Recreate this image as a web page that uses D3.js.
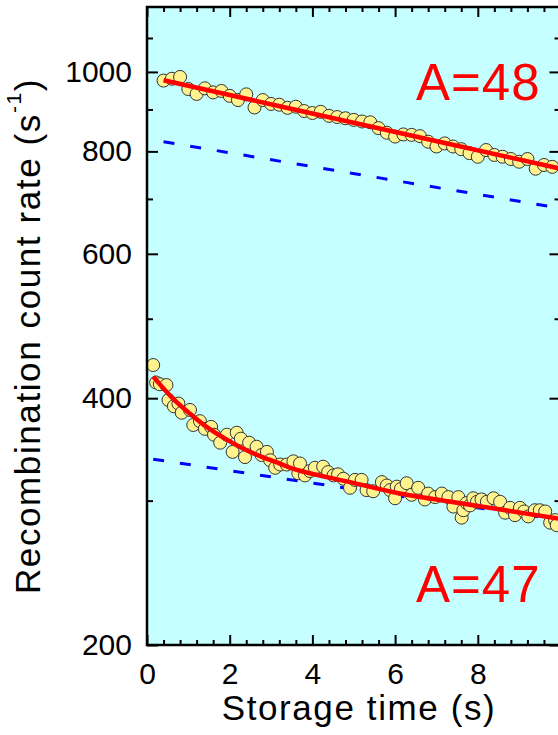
<!DOCTYPE html>
<html>
<head>
<meta charset="utf-8">
<script src="https://cdn.jsdelivr.net/npm/d3@7"></script>
<style>
  html, body { margin: 0; padding: 0; background: #ffffff; }
  svg { display: block; }
  text { font-family: "Liberation Sans", Arial, Helvetica, sans-serif; }
</style>
</head>
<body>
<svg id="chart" width="558" height="735"></svg>
<script>
// ---------------- data ----------------
// A=48 measured points
const upperT = [0.4,0.6,0.8,1.0,1.2,1.4,1.6,1.8,2.0,2.2,2.4,2.6,2.8,3.0,3.2,3.4,3.6,3.8,4.0,4.2,4.4,4.6,4.8,5.0,5.2,5.4,5.6,5.8,6.0,6.2,6.4,6.6,6.8,7.0,7.2,7.4,7.6,7.8,8.0,8.2,8.4,8.6,8.8,9.0,9.2,9.4,9.6,9.8];
const upperV = [976,981,986,953,940,955,944,948,935,924,939,905,924,914,912,904,907,896,891,894,884,881,878,874,870,868,854,843,834,839,838,835,822,811,818,811,805,796,788,803,792,788,783,777,783,762,770,766];
// A=47 measured points
const lowerT = [0.15,0.22,0.31,0.47,0.52,0.65,0.76,0.84,1.04,1.12,1.28,1.40,1.55,1.62,1.77,1.93,2.07,2.17,2.27,2.37,2.47,2.65,2.77,2.90,2.98,3.10,3.22,3.38,3.54,3.66,3.70,3.82,3.94,4.06,4.26,4.38,4.51,4.62,4.75,4.91,5.03,5.19,5.31,5.47,5.68,5.80,5.88,6.00,6.04,6.14,6.28,6.40,6.56,6.72,6.80,6.97,7.13,7.29,7.41,7.53,7.61,7.65,7.73,7.81,7.89,7.98,8.09,8.22,8.38,8.54,8.66,8.78,8.90,9.02,9.12,9.22,9.38,9.50,9.63,9.75,9.87,9.91];
const lowerV = [439,418,416,415,398,391,394,384,387,371,375,367,369,361,353,361,344,363,357,339,353,349,341,344,336,329,332,332,335,324,333,322,326,329,330,325,322,323,319,311,318,318,309,308,316,313,309,302,312,310,315,305,311,301,306,303,306,303,295,303,286,292,298,296,302,299,301,299,302,299,290,294,288,294,291,287,292,292,291,282,284,280];
// fit curves (red, solid)
const fitUpperT = [0.4, 5, 10];
const fitUpperV = [977, 867, 762];
const fitLowerT = [0.15,0.64,1.04,1.44,1.93,2.33,2.73,3.14,3.54,3.94,4.91,6.12,7.73,10];
const fitLowerV = [425,399,383,369,356,347,340,334,328,324,316,306,297,285];
// slow components (blue, dashed)
const slowUpperT = [0.4, 10];
const slowUpperV = [822, 682];
const slowLowerT = [0.15, 10];
const slowLowerV = [337, 284];
// ticks and labels
const xTickLabels = [0,2,4,6,8,10];
const xMinorTicks = [0.4,0.8,1.2,1.6,2.4,2.8,3.2,3.6,4.4,4.8,5.2,5.6,6.4,6.8,7.2,7.6,8.4,8.8,9.2,9.6];
const yTickLabels = [200,400,600,800,1000];
const yMinorTicks = [300,500,700,900,1100];
const labels = ["A=48", "A=47"];

// ---------------- layout ----------------
const L = 147, R = 560.5, T = 7, B = 645;
const svg = d3.select("#chart");
const x = d3.scaleLinear().domain([0, 10]).range([L, R]);
const y = d3.scaleLog().domain([200, 1200]).range([B, T]);

svg.append("rect").attr("x", L).attr("y", T).attr("width", R - L).attr("height", B - T)
  .attr("fill", "#c6ffff");

const zip = (a, b) => a.map((t, i) => [t, b[i]]);
const line = d3.line().x(d => x(d[0])).y(d => y(d[1]));
const curve = d3.line().x(d => x(d[0])).y(d => y(d[1])).curve(d3.curveCatmullRom.alpha(0.5));

const plot = svg.append("g");
// dashed slow components
[[slowUpperT, slowUpperV], [slowLowerT, slowLowerV]].forEach(([t, v]) => {
  plot.append("path").datum(zip(t, v)).attr("d", line)
    .attr("fill", "none").attr("stroke", "#0000ff").attr("stroke-width", 3)
    .attr("stroke-dasharray", "11,16");
});
// points
[[upperT, upperV], [lowerT, lowerV]].forEach(([t, v]) => {
  plot.append("g").selectAll("circle").data(zip(t, v)).join("circle")
    .attr("cx", d => x(d[0])).attr("cy", d => y(d[1])).attr("r", 6.5)
    .attr("fill", "#fff38f").attr("stroke", "#333").attr("stroke-width", 1);
});
// fits
[[fitUpperT, fitUpperV], [fitLowerT, fitLowerV]].forEach(([t, v]) => {
  plot.append("path").datum(zip(t, v)).attr("d", curve)
    .attr("fill", "none").attr("stroke", "#ff0000").attr("stroke-width", 4.5);
});

// ---------------- axes ----------------
function style(g) {
  g.select(".domain").remove();
  g.selectAll("line").attr("stroke", "#000").attr("stroke-width", 2);
  g.selectAll("text").attr("font-size", 30).attr("fill", "#000")
    .style("font-family", '"Liberation Sans", Arial, sans-serif');
}
const fmtX = d => (d === 10 ? "" : String(d));
svg.append("g").attr("transform", `translate(0,${B})`)
  .call(d3.axisBottom(x).tickValues(xTickLabels).tickFormat(fmtX).tickSizeInner(-10).tickSizeOuter(0).tickPadding(18))
  .call(style);
svg.append("g").attr("transform", `translate(0,${B})`)
  .call(d3.axisBottom(x).tickValues(xMinorTicks).tickFormat("").tickSizeInner(-5).tickSizeOuter(0))
  .call(style);
svg.append("g").attr("transform", `translate(0,${T})`)
  .call(d3.axisTop(x).tickValues(xTickLabels).tickFormat("").tickSizeInner(-10).tickSizeOuter(0))
  .call(style);
svg.append("g").attr("transform", `translate(0,${T})`)
  .call(d3.axisTop(x).tickValues(xMinorTicks).tickFormat("").tickSizeInner(-5).tickSizeOuter(0))
  .call(style);
svg.append("g").attr("transform", `translate(${L},0)`)
  .call(d3.axisLeft(y).tickValues(yTickLabels).tickFormat(d3.format("d")).tickSizeInner(-11).tickSizeOuter(0).tickPadding(15))
  .call(style);
svg.append("g").attr("transform", `translate(${L},0)`)
  .call(d3.axisLeft(y).tickValues(yMinorTicks).tickFormat("").tickSizeInner(-6).tickSizeOuter(0))
  .call(style);
svg.append("g").attr("transform", `translate(${R},0)`)
  .call(d3.axisRight(y).tickValues(yTickLabels).tickFormat("").tickSizeInner(-11).tickSizeOuter(0))
  .call(style);
svg.append("g").attr("transform", `translate(${R},0)`)
  .call(d3.axisRight(y).tickValues(yMinorTicks).tickFormat("").tickSizeInner(-6).tickSizeOuter(0))
  .call(style);

svg.append("rect").attr("x", L).attr("y", T).attr("width", R - L).attr("height", B - T)
  .attr("fill", "none").attr("stroke", "#000").attr("stroke-width", 2.5);

// ---------------- titles ----------------
svg.append("text").attr("x", 359).attr("y", 720).attr("text-anchor", "middle")
  .attr("font-size", 35).attr("letter-spacing", 1.6).attr("fill", "#000")
  .text("Storage time (s)");

const yt = svg.append("text").attr("transform", "translate(40,336) rotate(-90)")
  .attr("text-anchor", "middle").attr("font-size", 35).attr("letter-spacing", 1.6).attr("fill", "#000");
yt.append("tspan").text("Recombination count rate (s");
yt.append("tspan").attr("font-size", 21).attr("dy", -19).text("-1");
yt.append("tspan").attr("dy", 19).text(")");

svg.append("text").attr("x", 416).attr("y", 100).attr("font-size", 51).attr("letter-spacing", 1)
  .attr("fill", "#ff0000").text(labels[0]);
svg.append("text").attr("x", 416).attr("y", 602).attr("font-size", 51).attr("letter-spacing", 1)
  .attr("fill", "#ff0000").text(labels[1]);
</script>
</body>
</html>
